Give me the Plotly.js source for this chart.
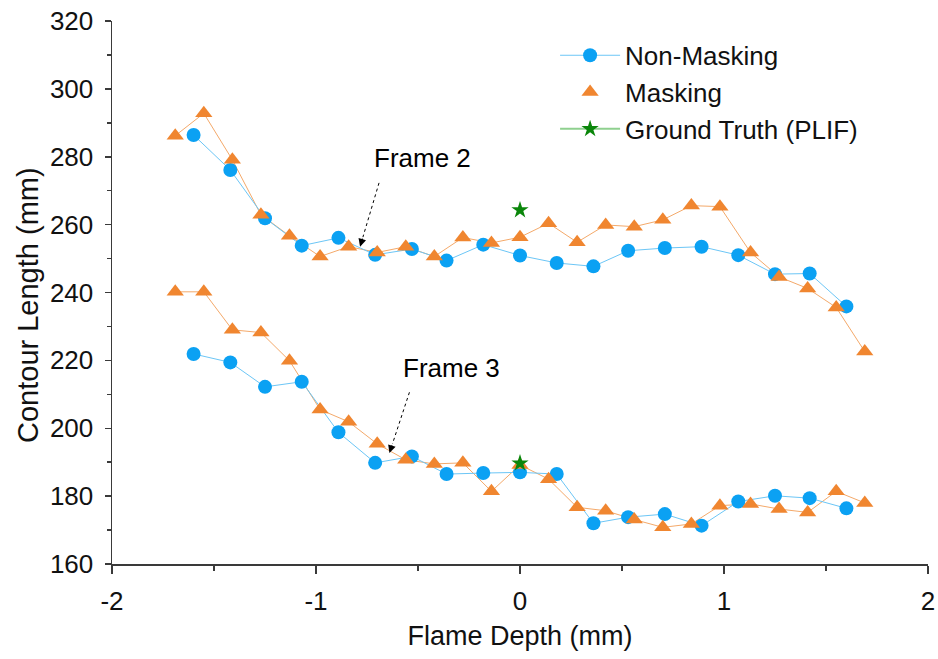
<!DOCTYPE html>
<html>
<head>
<meta charset="utf-8">
<script src="https://cdn.plot.ly/plotly-3.0.1.min.js"></script>
<style>
  html, body { margin: 0; padding: 0; background: #ffffff; }
  #chart { width: 938px; height: 659px; }
</style>
</head>
<body>
<div id="chart"></div>
<script>
// Flame depth positions (mm) for each method
const depthNonMasking = [-1.60, -1.42, -1.25, -1.07, -0.89, -0.71, -0.53, -0.36, -0.18, 0, 0.18, 0.36, 0.53, 0.71, 0.89, 1.07, 1.25, 1.42, 1.60];
const depthMasking = [-1.69, -1.55, -1.41, -1.27, -1.13, -0.98, -0.84, -0.70, -0.56, -0.42, -0.28, -0.14, 0, 0.14, 0.28, 0.42, 0.56, 0.70, 0.84, 0.98, 1.13, 1.27, 1.41, 1.55, 1.69];

// Contour length (mm), Frame 2
const frame2NonMasking = [286.4, 276.1, 261.9, 253.8, 256.1, 251.1, 252.8, 249.4, 254.1, 250.9, 248.7, 247.7, 252.3, 253.1, 253.5, 251.0, 245.4, 245.6, 235.9];
const frame2Masking = [286.2, 292.8, 279.1, 262.9, 256.7, 250.6, 253.5, 251.8, 253.5, 250.6, 256.2, 254.6, 256.3, 260.4, 254.8, 259.9, 259.4, 261.4, 265.6, 265.3, 251.8, 244.6, 241.2, 235.6, 222.6];

// Contour length (mm), Frame 3
const frame3NonMasking = [221.9, 219.4, 212.2, 213.7, 198.8, 189.8, 191.7, 186.5, 186.8, 187.0, 186.5, 172.0, 173.8, 174.7, 171.3, 178.4, 180.1, 179.4, 176.4];
const frame3Masking = [240.2, 240.2, 229.0, 228.2, 219.9, 205.5, 201.9, 195.4, 190.7, 189.5, 189.8, 181.4, 189.2, 185.0, 176.7, 175.7, 173.1, 170.8, 171.8, 177.2, 177.7, 176.2, 175.2, 181.4, 178.0];

// Ground truth (PLIF) at the centre plane
const truthDepth = [0];
const truthFrame2 = [264.3];
const truthFrame3 = [189.7];

// Axis tick labels (plain hyphen minus)
const xTickVals = [-2, -1, 0, 1, 2];
const xTickText = ['-2', '-1', '0', '1', '2'];
const yTickVals = [160, 180, 200, 220, 240, 260, 280, 300, 320];
const yTickText = ['160', '180', '200', '220', '240', '260', '280', '300', '320'];

const FONT = 'Liberation Sans, Arial, Helvetica, sans-serif';
const BLUE = '#0ba1f3';
const BLUE_LINE = '#6cc6f6';
const ORANGE = '#f08630';
const ORANGE_LINE = '#f4a96a';
const GREEN = '#0a860a';
const GREEN_LINE = '#8fd08f';
const AXIS = '#3a3a3a';

const circle = { symbol: 'circle', size: 14, color: BLUE };
const triangle = { symbol: 'triangle-up', size: 15, color: ORANGE };
const star = { symbol: 'star', size: 13, color: GREEN };

const traces = [
  // Masking connecting lines (drawn underneath)
  { x: depthMasking, y: frame2Masking, mode: 'lines', line: { color: ORANGE_LINE, width: 1 }, showlegend: false, hoverinfo: 'skip' },
  { x: depthMasking, y: frame3Masking, mode: 'lines', line: { color: ORANGE_LINE, width: 1 }, showlegend: false, hoverinfo: 'skip' },
  // Non-masking
  { x: depthNonMasking, y: frame2NonMasking, mode: 'lines+markers', name: 'Non-Masking', legendgroup: 'nm',
    line: { color: BLUE_LINE, width: 1 }, marker: circle },
  { x: depthNonMasking, y: frame3NonMasking, mode: 'lines+markers', name: 'Non-Masking', legendgroup: 'nm', showlegend: false,
    line: { color: BLUE_LINE, width: 1 }, marker: circle },
  // Masking markers
  { x: depthMasking, y: frame2Masking, mode: 'markers', name: 'Masking', legendgroup: 'm', marker: triangle },
  { x: depthMasking, y: frame3Masking, mode: 'markers', name: 'Masking', legendgroup: 'm', showlegend: false, marker: triangle },
  // Ground truth
  { x: truthDepth, y: truthFrame2, mode: 'lines+markers', name: 'Ground Truth (PLIF)', legendgroup: 'gt',
    line: { color: GREEN_LINE, width: 2 }, marker: star },
  { x: truthDepth, y: truthFrame3, mode: 'lines+markers', name: 'Ground Truth (PLIF)', legendgroup: 'gt', showlegend: false,
    line: { color: GREEN_LINE, width: 2 }, marker: star }
];

const axisCommon = {
  showline: true, linecolor: AXIS, linewidth: 1.5,
  ticks: 'outside', tickcolor: AXIS, tickwidth: 1.5,
  showgrid: false, zeroline: false, mirror: false,
  tickmode: 'array',
  tickfont: { family: FONT, size: 26, color: '#111' }
};

// Pointer arrows for the frame labels: dotted shaft plus a short arrow for the head
const frameArrows = [
  { label: 'Frame 2', tx: -0.48, ty: 279.7, x0: -0.691, y0: 272.3, x1: -0.784, y1: 253.5 },
  { label: 'Frame 3', tx: -0.335, ty: 217.7, x0: -0.542, y0: 210.6, x1: -0.640, y1: 192.7 }
];

const shapes = [];
const annotations = [];
frameArrows.forEach(a => {
  const headBackX = a.x1 + (a.x0 - a.x1) * 0.15;
  const headBackY = a.y1 + (a.y0 - a.y1) * 0.15;
  shapes.push({ type: 'line', xref: 'x', yref: 'y', x0: a.x0, y0: a.y0, x1: headBackX, y1: headBackY,
    line: { color: '#000', width: 1, dash: 'dot' } });
  annotations.push({ x: a.x1, y: a.y1, ax: headBackX, ay: headBackY, axref: 'x', ayref: 'y', xref: 'x', yref: 'y',
    text: '', showarrow: true, arrowhead: 2, arrowsize: 1.3, arrowwidth: 1.2, arrowcolor: '#000' });
  annotations.push({ x: a.tx, y: a.ty, xref: 'x', yref: 'y', text: a.label, showarrow: false,
    font: { family: FONT, size: 26, color: '#000' } });
});

const M = { l: 112, r: 10, t: 21, b: 95 };
const plotW = 938 - M.l - M.r, plotH = 659 - M.t - M.b;

// Vertical axis title, placed by its centre in pixels
annotations.push({
  x: (28 - M.l) / plotW, y: (659 - M.b - 305) / plotH, xref: 'paper', yref: 'paper',
  xanchor: 'center', yanchor: 'middle',
  text: 'Contour Length (mm)', showarrow: false, textangle: -90,
  font: { family: FONT, size: 29, color: '#111' }
});

const layout = {
  width: 938, height: 659,
  margin: M,
  paper_bgcolor: '#ffffff', plot_bgcolor: '#ffffff',
  font: { family: FONT, color: '#111' },
  xaxis: Object.assign({}, axisCommon, {
    range: [-2, 2], tickvals: xTickVals, ticktext: xTickText, ticklen: 8, ticklabelstandoff: 5,
    minor: { tickvals: [-1.5, -0.5, 0.5, 1.5], ticks: 'outside', ticklen: 5, tickcolor: AXIS, tickwidth: 1.5 },
    title: { text: 'Flame Depth (mm)', font: { family: FONT, size: 27, color: '#111' }, standoff: 11 }
  }),
  yaxis: Object.assign({}, axisCommon, {
    range: [160, 320], tickvals: yTickVals, ticktext: yTickText, ticklen: 6, ticklabelstandoff: 6,
    minor: { tickvals: [170, 190, 210, 230, 250, 270, 290, 310], ticks: 'outside', ticklen: 4, tickcolor: AXIS, tickwidth: 1.5 }
  }),
  legend: {
    x: 0.543, xanchor: 'left', y: 0.98, yanchor: 'top',
    bgcolor: 'rgba(0,0,0,0)', borderwidth: 0,
    font: { family: FONT, size: 26, color: '#111' },
    itemwidth: 60, tracegroupgap: 0
  },
  shapes: shapes,
  annotations: annotations,
  showlegend: true
};

Plotly.newPlot('chart', traces, layout, { displayModeBar: false, staticPlot: true });
</script>
</body>
</html>
